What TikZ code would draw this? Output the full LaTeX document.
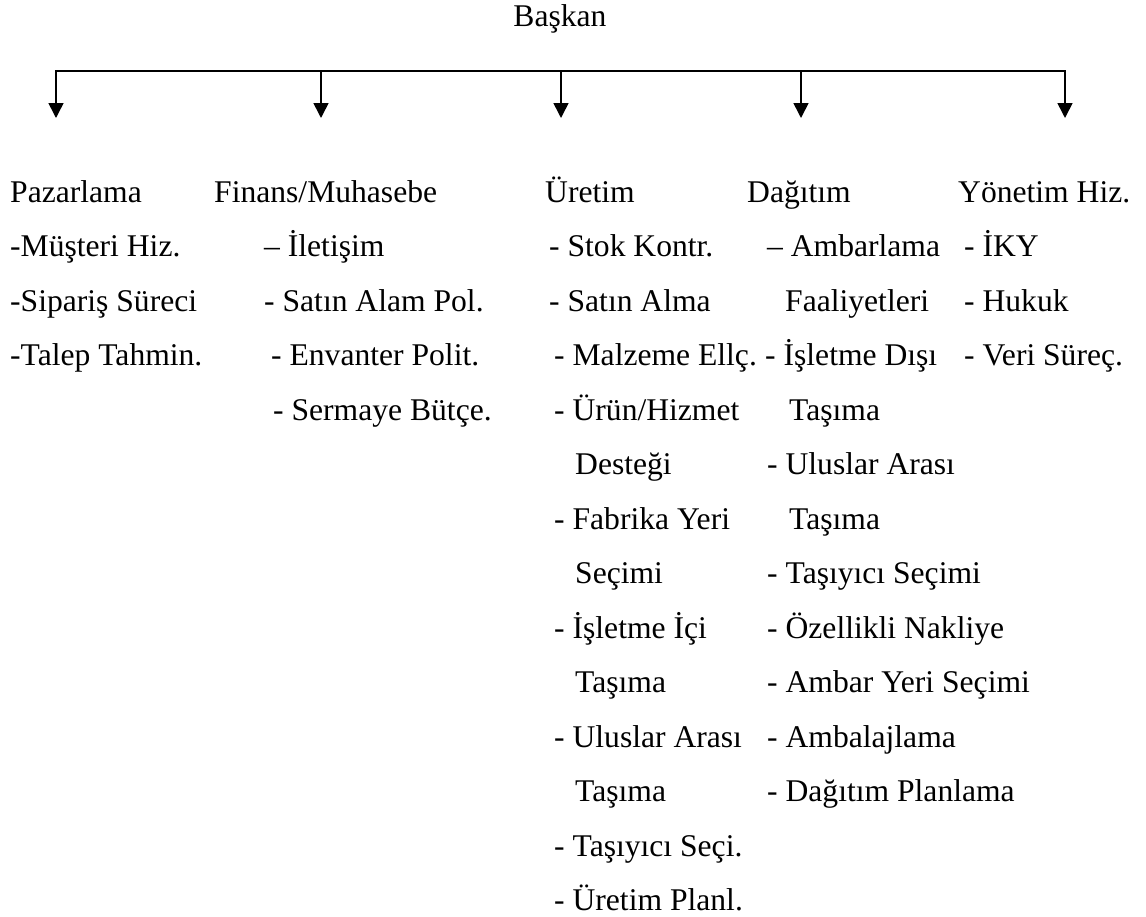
\documentclass[tikz,border=0pt]{standalone}
\usepackage{fontspec}
\setmainfont{Liberation Serif}
\usetikzlibrary{arrows.meta}
\begin{document}
\begin{tikzpicture}[x=1pt,y=-1pt,
  txt/.style={anchor=base west, inner sep=0pt, font=\fontsize{31.6}{36}\selectfont},
  title/.style={txt, anchor=base},
  bar/.style={line width=1.6pt, line cap=rect},
  down/.style={line width=1.6pt, -{Triangle[length=15pt,width=15pt]}}]
\useasboundingbox (0,0) rectangle (1146,916);

% top of the chart
\node[title] (baskan) at (560,26) {Başkan};

% distribution bar and the five branches
\coordinate (t1) at (56,71);   \coordinate (a1) at (56,118);
\coordinate (t2) at (321,71);  \coordinate (a2) at (321,118);
\coordinate (t3) at (561,71);  \coordinate (a3) at (561,118);
\coordinate (t4) at (801,71);  \coordinate (a4) at (801,118);
\coordinate (t5) at (1065,71); \coordinate (a5) at (1065,118);
\draw[bar] (t1) -- (t5);
\draw[down] (t1) -- (a1);
\draw[down] (t2) -- (a2);
\draw[down] (t3) -- (a3);
\draw[down] (t4) -- (a4);
\draw[down] (t5) -- (a5);

% Pazarlama
\node[txt] (p0) at (10,202)   {Pazarlama};
\node[txt] (p1) at (10,256.5) {-Müşteri Hiz.};
\node[txt] (p2) at (10,311)   {-Sipariş Süreci};
\node[txt] (p3) at (10,365.5) {-Talep Tahmin.};

% Finans/Muhasebe
\node[txt] (f0) at (214,202)   {Finans/Muhasebe};
\node[txt] (f1) at (264,256.5) {– İletişim};
\node[txt] (f2) at (264,311)   {- Satın Alam Pol.};
\node[txt] (f3) at (271,365.5) {- Envanter Polit.};
\node[txt] (f4) at (273,420)   {- Sermaye Bütçe.};

% Üretim
\node[txt] (u0)  at (545,202)   {Üretim};
\node[txt] (u1)  at (549,256.5) {- Stok Kontr.};
\node[txt] (u2)  at (549,311)   {- Satın Alma};
\node[txt] (u3)  at (554,365.5) {- Malzeme Ellç.};
\node[txt] (u4)  at (554,420)   {- Ürün/Hizmet};
\node[txt] (u5)  at (575,474.5) {Desteği};
\node[txt] (u6)  at (554,529)   {- Fabrika Yeri};
\node[txt] (u7)  at (575,583.5) {Seçimi};
\node[txt] (u8)  at (554,638)   {- İşletme İçi};
\node[txt] (u9)  at (575,692.5) {Taşıma};
\node[txt] (u10) at (554,747)   {- Uluslar Arası};
\node[txt] (u11) at (575,801.5) {Taşıma};
\node[txt] (u12) at (554,856)   {- Taşıyıcı Seçi.};
\node[txt] (u13) at (554,910.5) {- Üretim Planl.};

% Dağıtım
\node[txt] (d0)  at (747,202)   {Dağıtım};
\node[txt] (d1)  at (767,256.5) {– Ambarlama};
\node[txt] (d2)  at (785,311)   {Faaliyetleri};
\node[txt] (d3)  at (765,365.5) {- İşletme Dışı};
\node[txt] (d4)  at (789,420)   {Taşıma};
\node[txt] (d5)  at (767,474.5) {- Uluslar Arası};
\node[txt] (d6)  at (789,529)   {Taşıma};
\node[txt] (d7)  at (767,583.5) {- Taşıyıcı Seçimi};
\node[txt] (d8)  at (767,638)   {- Özellikli Nakliye};
\node[txt] (d9)  at (767,692.5) {- Ambar Yeri Seçimi};
\node[txt] (d10) at (767,747)   {- Ambalajlama};
\node[txt] (d11) at (767,801.5) {- Dağıtım Planlama};

% Yönetim Hizmetleri
\node[txt] (y0) at (958,202)   {Yönetim Hiz.};
\node[txt] (y1) at (964,256.5) {- İKY};
\node[txt] (y2) at (964,311)   {- Hukuk};
\node[txt] (y3) at (964,365.5) {- Veri Süreç.};
\end{tikzpicture}
\end{document}
